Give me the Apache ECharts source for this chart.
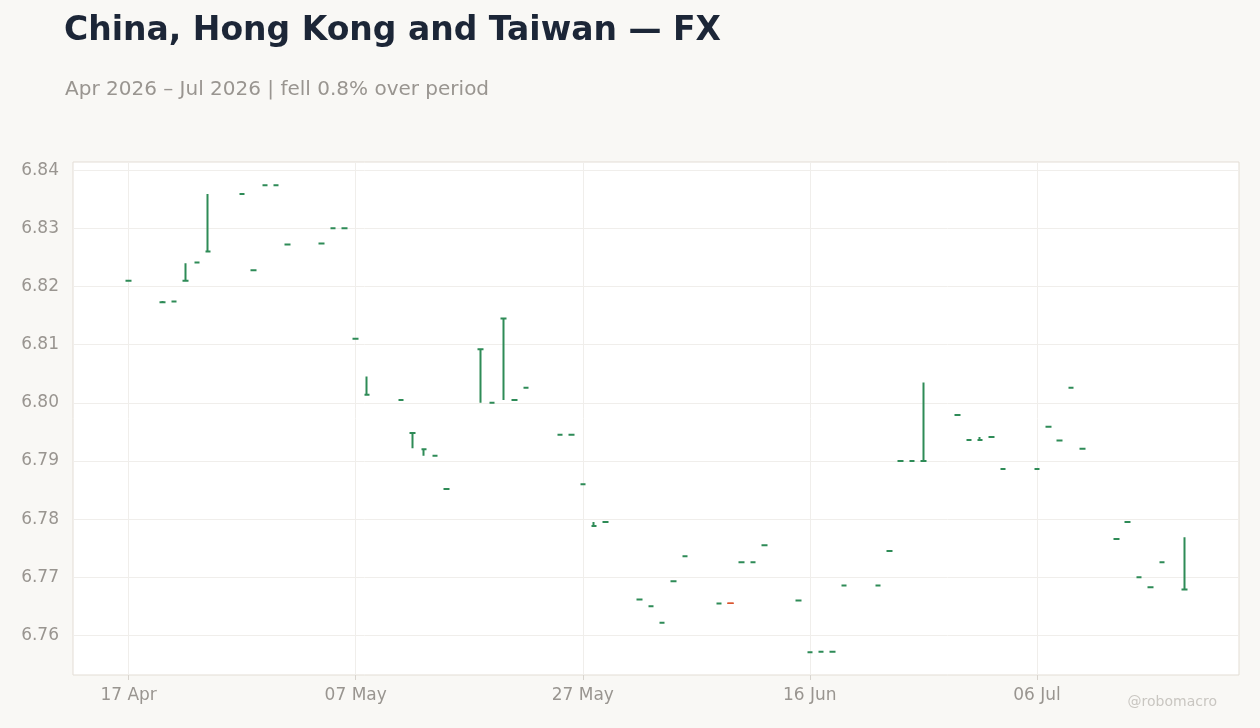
<!DOCTYPE html>
<html>
<head>
<meta charset="utf-8">
<script src="https://cdn.jsdelivr.net/npm/echarts@6/dist/echarts.min.js"></script>
<style>
  html, body { margin: 0; padding: 0; background: #f9f8f5; }
  #chart { width: 1260px; height: 728px; }
</style>
</head>
<body>
<div id="chart"></div>
<script>
// days counted from 17 Apr 2026
var days   = [0, 3, 4, 5, 6, 7, 10, 11, 12, 13, 14, 17, 18, 19, 20, 21, 24, 25, 26, 27, 28, 31, 32, 33, 34, 35, 38, 39, 40, 41, 42,
              45, 46, 47, 48, 49, 52, 53, 54, 55, 56, 59, 60, 61, 62, 63, 66, 67, 68, 69, 70, 73, 74, 75, 76, 77, 80, 81, 82, 83, 84, 87, 88, 89, 90, 91, 93];
var opens  = [6.8210, 6.8173, 6.8174, 6.8210, 6.8241, 6.8260, 6.8359, 6.8228, 6.8374, 6.8374, 6.8272, 6.8274, 6.8300, 6.8300, 6.8110, 6.8014,
              6.8005, 6.7948, 6.7920, 6.7909, 6.7852, 6.8092, 6.8000, 6.8145, 6.8005, 6.8026, 6.7945, 6.7945, 6.7860, 6.7788, 6.7795,
              6.7662, 6.7650, 6.7622, 6.7693, 6.7736, 6.7655, 6.7656, 6.7726, 6.7726, 6.7755, 6.7660, 6.7571, 6.7572, 6.7572, 6.7686,
              6.7686, 6.7745, 6.7900, 6.7900, 6.7900, 6.7979, 6.7936, 6.7936, 6.7941, 6.7886, 6.7886, 6.7959, 6.7935, 6.8026, 6.7921,
              6.7766, 6.7795, 6.7700, 6.7683, 6.7726, 6.7679];
var closes = [6.8210, 6.8173, 6.8174, 6.8210, 6.8241, 6.8260, 6.8359, 6.8228, 6.8374, 6.8374, 6.8272, 6.8274, 6.8300, 6.8300, 6.8110, 6.8014,
              6.8005, 6.7948, 6.7920, 6.7909, 6.7852, 6.8092, 6.8000, 6.8145, 6.8005, 6.8026, 6.7945, 6.7945, 6.7860, 6.7788, 6.7795,
              6.7662, 6.7650, 6.7622, 6.7693, 6.7736, 6.7655, 6.7655, 6.7726, 6.7726, 6.7755, 6.7660, 6.7571, 6.7572, 6.7572, 6.7686,
              6.7686, 6.7745, 6.7900, 6.7900, 6.7900, 6.7979, 6.7936, 6.7936, 6.7941, 6.7886, 6.7886, 6.7959, 6.7935, 6.8026, 6.7921,
              6.7766, 6.7795, 6.7700, 6.7683, 6.7726, 6.7679];
var lows   = [6.8210, 6.8173, 6.8174, 6.8210, 6.8241, 6.8260, 6.8359, 6.8228, 6.8374, 6.8374, 6.8272, 6.8274, 6.8300, 6.8300, 6.8110, 6.8014,
              6.8005, 6.7922, 6.7909, 6.7909, 6.7852, 6.8000, 6.8000, 6.8005, 6.8005, 6.8026, 6.7945, 6.7945, 6.7860, 6.7788, 6.7795,
              6.7662, 6.7650, 6.7622, 6.7693, 6.7736, 6.7655, 6.7655, 6.7726, 6.7726, 6.7755, 6.7660, 6.7571, 6.7572, 6.7572, 6.7686,
              6.7686, 6.7745, 6.7900, 6.7900, 6.7900, 6.7979, 6.7936, 6.7936, 6.7941, 6.7886, 6.7886, 6.7959, 6.7935, 6.8026, 6.7921,
              6.7766, 6.7795, 6.7700, 6.7683, 6.7726, 6.7679];
var highs  = [6.8210, 6.8175, 6.8174, 6.8240, 6.8241, 6.8359, 6.8359, 6.8228, 6.8374, 6.8374, 6.8272, 6.8274, 6.8300, 6.8300, 6.8110, 6.8045,
              6.8005, 6.7948, 6.7920, 6.7909, 6.7852, 6.8092, 6.8000, 6.8145, 6.8005, 6.8026, 6.7945, 6.7945, 6.7860, 6.7795, 6.7795,
              6.7662, 6.7650, 6.7622, 6.7693, 6.7736, 6.7655, 6.7656, 6.7726, 6.7726, 6.7755, 6.7660, 6.7571, 6.7572, 6.7572, 6.7686,
              6.7686, 6.7745, 6.7900, 6.7900, 6.8035, 6.7979, 6.7936, 6.7941, 6.7941, 6.7886, 6.7886, 6.7959, 6.7935, 6.8026, 6.7921,
              6.7766, 6.7795, 6.7700, 6.7683, 6.7726, 6.7769];
var downDays   = [53];
var tickDays   = [0, 20, 40, 60, 80];
var tickLabels = ['17 Apr', '07 May', '27 May', '16 Jun', '06 Jul'];
var yTicks     = [6.76, 6.77, 6.78, 6.79, 6.80, 6.81, 6.82, 6.83, 6.84];

var GREEN = '#2e8b57', RED = '#d9532c';
var candles = days.map(function(d, i) {
    var down = downDays.indexOf(d) >= 0;
    var c = down ? RED : GREEN;
    return { value: [d, opens[i], closes[i], lows[i], highs[i]],
             itemStyle: { color: c, color0: c, borderColor: c, borderColor0: c, borderWidth: down ? 1 : 2 } };
});

var chart = echarts.init(document.getElementById('chart'));
chart.setOption({
    backgroundColor: '#f9f8f5',
    animation: false,
    title: [
        { text: 'China, Hong Kong and Taiwan — FX', left: 59, top: 10,
          textStyle: { fontFamily: 'DejaVu Sans', fontSize: 33, fontWeight: 'bold', color: '#1c2637' } },
        { text: 'Apr 2026 – Jul 2026 | fell 0.8% over period', left: 60, top: 75,
          textStyle: { fontFamily: 'DejaVu Sans', fontSize: 20, fontWeight: 'normal', color: '#999590' } },
        { text: '@robomacro', right: 38, bottom: 14,
          textStyle: { fontFamily: 'DejaVu Sans', fontSize: 14, fontWeight: 'normal', color: '#c9c6c1' } }
    ],
    grid: { left: 73, right: 21, top: 162, bottom: 53, show: true, backgroundColor: '#ffffff', borderColor: '#e3ddd5', borderWidth: 1 },
    xAxis: {
        type: 'value', min: -4.9, max: 97.8,
        axisLine: { show: false },
        axisTick: { show: true, customValues: tickDays, length: 5, lineStyle: { color: '#d8d4ce' } },
        axisLabel: { customValues: tickDays, color: '#999590', fontFamily: 'DejaVu Sans', fontSize: 17, margin: 12,
            formatter: function(v) { return tickLabels[tickDays.indexOf(Math.round(v))] || ''; } },
        splitLine: { show: true, lineStyle: { color: '#f0eeeb' } }
    },
    yAxis: {
        type: 'value', min: 6.7532, max: 6.8414,
        axisLine: { show: false },
        axisTick: { show: false, customValues: yTicks },
        axisLabel: { customValues: yTicks, color: '#999590', fontFamily: 'DejaVu Sans', fontSize: 17, margin: 14,
            formatter: function(v) { return v.toFixed(2); } },
        splitLine: { show: true, lineStyle: { color: '#f0eeeb' } }
    },
    series: [{
        type: 'candlestick',
        data: candles,
        barWidth: 6
    }]
});
</script>
</body>
</html>
